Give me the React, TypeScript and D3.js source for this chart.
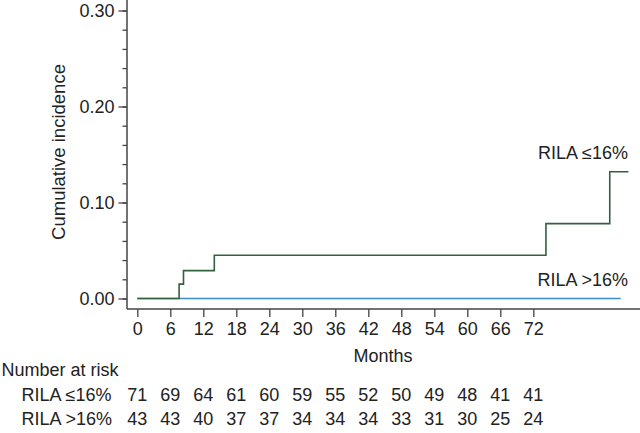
import React, { useEffect, useRef } from 'react';
import * as d3 from 'd3';

// Step curves (months, cumulative incidence)
const lowMonths = [0, 7.6, 8.4, 14, 74.3, 85.9, 89.3];
const lowValues = [0, 0.015, 0.029, 0.045, 0.078, 0.132, 0.132];
const highMonths = [0, 87.9];
const highValues = [0, 0];

const xTicks = [0, 6, 12, 18, 24, 30, 36, 42, 48, 54, 60, 66, 72];
const yTicks = [0, 0.1, 0.2, 0.3];
const yMinorTicks = d3.range(0, 0.301, 0.02);

const riskLabels = ['RILA \u226416%', 'RILA >16%'];
const riskLow = [71, 69, 64, 61, 60, 59, 55, 52, 50, 49, 48, 41, 41];
const riskHigh = [43, 43, 40, 37, 37, 34, 34, 34, 33, 31, 30, 25, 24];

const W = 640;
const H = 433;
const FONT = '"Liberation Sans", Arial, Helvetica, sans-serif';
const TEXT = '#222';
const AXIS = '#444';

const App = () => {
  const ref = useRef<SVGSVGElement>(null);

  useEffect(() => {
    document.body.style.margin = '0';
    const svg = d3.select(ref.current);
    svg.selectAll('*').remove();

    const x = d3.scaleLinear().domain([0, 72]).range([137.3, 533.3]);
    const y = d3.scaleLinear().domain([0, 0.3]).range([298.5, 10.5]);
    const axisX = 127;
    const axisY = 309;

    const g = svg.append('g').attr('font-family', FONT).attr('fill', TEXT);

    // Minor y ticks
    const yMinor = g.append('g')
      .attr('transform', `translate(${axisX},0)`)
      .call(d3.axisLeft(y).tickValues(yMinorTicks).tickSize(4.5).tickFormat(() => ''));
    yMinor.select('.domain').remove();
    yMinor.selectAll('line').attr('stroke', AXIS).attr('stroke-width', 1.3);

    // Major y ticks
    const yAxis = g.append('g')
      .attr('transform', `translate(${axisX},0)`)
      .call(d3.axisLeft(y).tickValues(yTicks).tickSize(8.5).tickPadding(4).tickFormat(d3.format('.2f')));
    yAxis.select('.domain').remove();
    yAxis.selectAll('line').attr('stroke', AXIS).attr('stroke-width', 1.3);
    yAxis.selectAll('text').attr('font-size', 18).attr('font-family', FONT).attr('fill', TEXT);

    // x ticks
    const xAxis = g.append('g')
      .attr('transform', `translate(0,${axisY})`)
      .call(d3.axisBottom(x).tickValues(xTicks).tickSize(8).tickPadding(5).tickFormat(d3.format('d')));
    xAxis.select('.domain').remove();
    xAxis.selectAll('line').attr('stroke', AXIS).attr('stroke-width', 1.3);
    xAxis.selectAll('text').attr('font-size', 18).attr('font-family', FONT).attr('fill', TEXT);

    // Axis lines
    g.append('line').attr('x1', axisX).attr('x2', axisX).attr('y1', 0).attr('y2', axisY)
      .attr('stroke', AXIS).attr('stroke-width', 1.5);
    g.append('line').attr('x1', axisX).attr('x2', W).attr('y1', axisY).attr('y2', axisY)
      .attr('stroke', AXIS).attr('stroke-width', 1.5);

    // Curves
    const step = d3.line<[number, number]>()
      .x(d => x(d[0]))
      .y(d => y(d[1]))
      .curve(d3.curveStepAfter);

    g.append('path')
      .datum(highMonths.map((m, i) => [m, highValues[i]] as [number, number]))
      .attr('d', step)
      .attr('fill', 'none')
      .attr('stroke', '#3a8bd0')
      .attr('stroke-width', 1.6);

    g.append('path')
      .datum(lowMonths.map((m, i) => [m, lowValues[i]] as [number, number]))
      .attr('d', step)
      .attr('fill', 'none')
      .attr('stroke', '#33603f')
      .attr('stroke-width', 1.6);

    // Curve labels
    g.append('text').attr('x', 628).attr('y', 158.5).attr('text-anchor', 'end')
      .attr('font-size', 18).text(riskLabels[0]);
    g.append('text').attr('x', 628).attr('y', 286).attr('text-anchor', 'end')
      .attr('font-size', 18).text(riskLabels[1]);

    // Axis titles
    g.append('text').attr('x', 383).attr('y', 361.5).attr('text-anchor', 'middle')
      .attr('font-size', 18).text('Months');
    g.append('text')
      .attr('transform', `translate(65,152) rotate(-90)`)
      .attr('text-anchor', 'middle')
      .attr('font-size', 18.5)
      .text('Cumulative incidence');

    // Number at risk table
    g.append('text').attr('x', 1.5).attr('y', 376).attr('font-size', 18).text('Number at risk');
    [riskLow, riskHigh].forEach((row, r) => {
      const base = 400.7 + r * 24.3;
      g.append('text').attr('x', 21.5).attr('y', base).attr('font-size', 18).text(riskLabels[r]);
      g.append('g').selectAll('text')
        .data(row)
        .enter()
        .append('text')
        .attr('x', (_, i) => x(xTicks[i]))
        .attr('y', base)
        .attr('text-anchor', 'middle')
        .attr('font-size', 18)
        .text(d => d);
    });
  });

  return <svg ref={ref} width={W} height={H} style={{ display: 'block', background: '#fff' }} />;
};

export default App;
